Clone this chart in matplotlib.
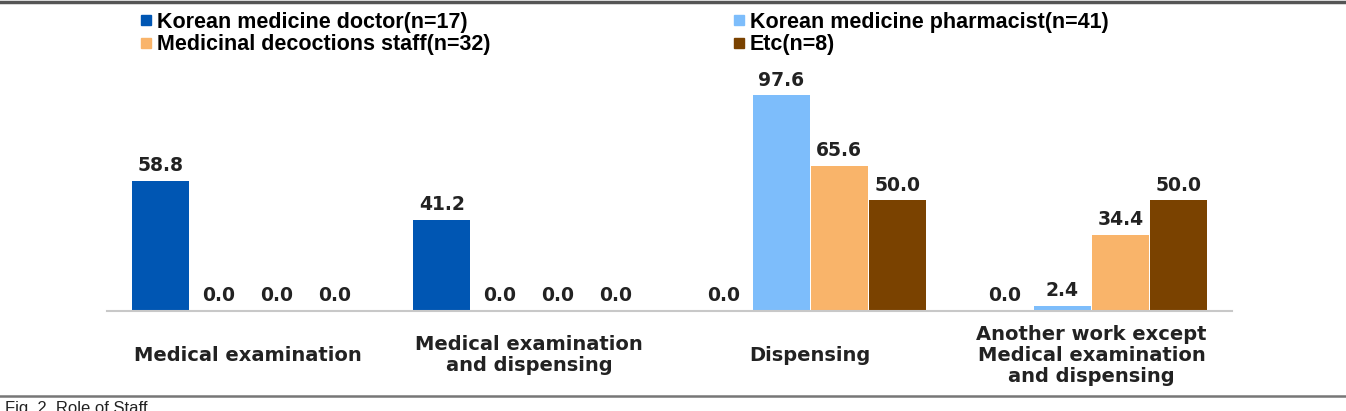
import matplotlib
matplotlib.use("Agg")
import matplotlib.pyplot as plt
import numpy as np
from matplotlib.lines import Line2D

categories = ["Medical examination", "Medical examination\nand dispensing",
              "Dispensing", "Another work except\nMedical examination\nand dispensing"]
series_names = ["Korean medicine doctor(n=17)", "Korean medicine pharmacist(n=41)",
                "Medicinal decoctions staff(n=32)", "Etc(n=8)"]
doctor = [58.8, 41.2, 0.0, 0.0]
pharmacist = [0.0, 0.0, 97.6, 2.4]
decoctions = [0.0, 0.0, 65.6, 34.4]
etc = [0.0, 0.0, 50.0, 50.0]
colors = ["#0056B3", "#7DBDFB", "#F9B46A", "#7A4200"]

W, H = 1346, 411
fig = plt.figure(figsize=(W / 100, H / 100), dpi=100)
ax = fig.add_axes([107 / W, (H - 311) / H, (1232 - 107) / W, (311 - 78) / H])

series = [doctor, pharmacist, decoctions, etc]
x = np.arange(len(categories))
bw = 58 / 281.25
for i, (vals, c) in enumerate(zip(series, colors)):
    pos = x + (i - 1.5) * bw
    ax.bar(pos, vals, width=bw * 0.985, color=c, label=series_names[i])
    for p, v in zip(pos, vals):
        ax.text(p, v + 2.5, f"{v:.1f}", ha="center", va="bottom",
                fontsize=13.5, fontweight="bold", family="DejaVu Sans", color="#222222")

ax.set_xlim(-0.5, 3.5)
ax.set_ylim(0, 105.3)
for s in ["top", "right", "left"]:
    ax.spines[s].set_visible(False)
ax.spines["bottom"].set_color("#C8C8C8")
ax.spines["bottom"].set_linewidth(1.5)
ax.set_yticks([])
ax.set_xticks([])
for xi, lab in zip(x, categories):
    ax.text(xi, -0.19, lab, transform=ax.get_xaxis_transform(), ha="center", va="center",
            multialignment="center", fontsize=14, fontweight="bold", family="DejaVu Sans",
            color="#222222", linespacing=1.15)

handles = [Line2D([], [], marker="s", linestyle="none", markersize=7,
                  markerfacecolor=c, markeredgecolor=c) for c in colors]
order = [0, 2, 1, 3]
leg = fig.legend([handles[k] for k in order], [series_names[k] for k in order],
                 ncol=2, loc="upper left", bbox_to_anchor=(141 / W, 1 - 12 / H),
                 frameon=False, prop={"family": "Liberation Sans", "weight": "bold", "size": 15.5},
                 handlelength=0.5, handletextpad=0.25, columnspacing=11.3, labelspacing=0.05,
                 borderpad=0, borderaxespad=0)

fig.add_artist(Line2D([0, 1], [1 - 2 / H, 1 - 2 / H], transform=fig.transFigure,
                      color="#555555", linewidth=2.5))
fig.add_artist(Line2D([0, 1], [1 - 396 / H, 1 - 396 / H], transform=fig.transFigure,
                      color="#777777", linewidth=1.8))
fig.text(5 / W, 1 - 401 / H, "Fig. 2. Role of Staff", ha="left", va="top",
         fontsize=12, family="Liberation Sans", color="#222222")

fig.savefig("out.png", dpi=100)
